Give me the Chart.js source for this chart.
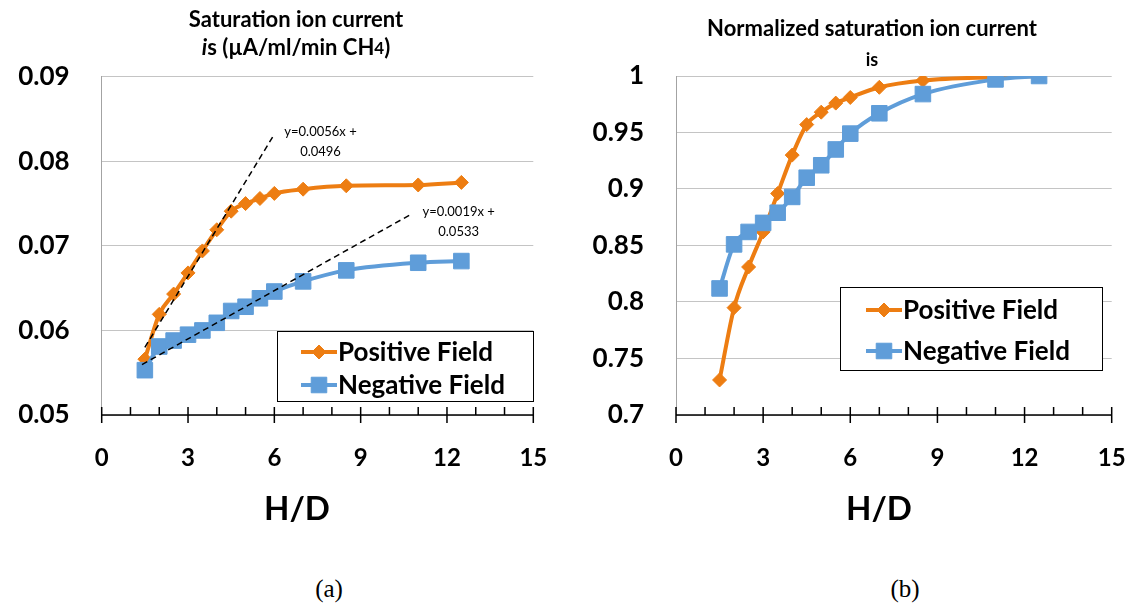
<!DOCTYPE html>
<html>
<head>
<meta charset="utf-8">
<script src="https://cdn.jsdelivr.net/npm/chart.js@4.4.1/dist/chart.umd.min.js"></script>
<style>
  body { margin: 0; background: #fff; width: 1133px; height: 615px; position: relative; overflow: hidden; }
  .panel { position: absolute; top: 0; height: 545px; }
  #panel-a { left: 0; width: 566px; }
  #panel-b { left: 566px; width: 567px; }
  .caption { position: absolute; top: 575px; font-family: "Liberation Serif", "DejaVu Serif", serif; font-size: 25px; color: #000; transform: translateX(-50%); }
</style>
</head>
<body>
<div class="panel" id="panel-a"><canvas id="chart-a"></canvas></div>
<div class="panel" id="panel-b"><canvas id="chart-b"></canvas></div>
<div class="caption" style="left:329px">(a)</div>
<div class="caption" style="left:905px">(b)</div>

<script>
// H/D positions of the measurements
const hdValues = [1.5, 2, 2.5, 3, 3.5, 4, 4.5, 5, 5.5, 6, 7, 8.5, 11, 12.5];

// saturation ion current, uA/ml/min CH4
const positiveIs = [0.0566, 0.0619, 0.0643, 0.0668, 0.0694, 0.0719, 0.0741, 0.0750, 0.0756, 0.0762, 0.0767, 0.0771, 0.0772, 0.0775];
const negativeIs = [0.0553, 0.0581, 0.0588, 0.0595, 0.0600, 0.0609, 0.0623, 0.0628, 0.0638, 0.0646, 0.0658, 0.0671, 0.0680, 0.0682];

// same currents normalized to the last point
const positiveNorm = [0.731, 0.795, 0.831, 0.862, 0.896, 0.930, 0.957, 0.968, 0.976, 0.981, 0.990, 0.996, 0.999, 1.0];
const negativeNorm = [0.812, 0.851, 0.862, 0.870, 0.879, 0.893, 0.910, 0.921, 0.935, 0.949, 0.967, 0.984, 0.997, 1.0];

// linear fits of the low H/D part
const positiveFit = { slope: 0.0056, intercept: 0.0496, from: 1.5, to: 6.0 };
const negativeFit = { slope: 0.0019, intercept: 0.0533, from: 1.4, to: 10.8 };

const seriesNames = ["Positive Field", "Negative Field"];
const xRange = [0, 15, 3];           // min, max, label step
const yRangeA = [0.05, 0.09, 0.01];
const yRangeB = [0.7, 1.0, 0.05];

const ORANGE = "#ED7D12";
const BLUE = "#5F9DD9";
const FONT = "Lato, 'Open Sans', sans-serif";

function toPoints(xs, ys) {
  return xs.map((x, i) => ({ x: x, y: ys[i] }));
}

function fitPoints(fit) {
  return [fit.from, fit.to].map(x => ({ x: x, y: fit.slope * x + fit.intercept }));
}

function seriesDataset(label, data, color, style, radius, order) {
  return {
    label: label,
    data: data,
    borderColor: color,
    backgroundColor: color,
    borderWidth: 4,
    pointStyle: style,
    pointRadius: radius,
    pointBorderWidth: 1,
    pointHoverRadius: radius,
    cubicInterpolationMode: "monotone",
    order: order,
  };
}

function fitDataset(fit) {
  return {
    data: fitPoints(fit),
    borderColor: "#000",
    borderWidth: 1.5,
    borderDash: [6, 4],
    pointRadius: 0,
    order: 0,
    fitText: ["y=" + fit.slope + "x +", String(fit.intercept)],
  };
}

// titles (mixed fonts) and the H/D axis caption
const headingPlugin = {
  id: "heading",
  afterDraw(chart, args, opts) {
    const ctx = chart.ctx;
    ctx.save();
    ctx.fillStyle = "#000";
    ctx.textBaseline = "middle";
    ctx.textAlign = "left";
    opts.lines.forEach(line => {
      let total = 0;
      line.runs.forEach(r => { ctx.font = r.font; total += ctx.measureText(r.text).width; });
      let x = (line.x || opts.centerX) - total / 2;
      line.runs.forEach(r => {
        ctx.font = r.font;
        ctx.fillText(r.text, x, line.y + (r.dy || 0));
        x += ctx.measureText(r.text).width;
      });
    });
    ctx.restore();
  },
};

// x axis line with crossing major ticks and inside minor ticks
const axisPlugin = {
  id: "hdAxis",
  afterDatasetsDraw(chart) {
    const ctx = chart.ctx;
    const xs = chart.scales.x;
    const area = chart.chartArea;
    const y0 = area.bottom;
    ctx.save();
    ctx.strokeStyle = "#000";
    ctx.lineWidth = 1.5;
    ctx.beginPath();
    ctx.moveTo(area.left, y0);
    ctx.lineTo(area.right, y0);
    for (let v = xs.min; v <= xs.max; v += 1) {
      const px = xs.getPixelForValue(v);
      const major = v % xRange[2] === 0;
      ctx.moveTo(px, y0 - 8);
      ctx.lineTo(px, major ? y0 + 8 : y0);
    }
    ctx.stroke();
    ctx.restore();
  },
};

// equations next to the end of each fitted line
const fitTextPlugin = {
  id: "fitText",
  afterDatasetsDraw(chart) {
    const ctx = chart.ctx;
    ctx.save();
    ctx.fillStyle = "#000";
    ctx.font = "13px " + FONT;
    ctx.textBaseline = "middle";
    chart.data.datasets.forEach(ds => {
      if (!ds.fitText) return;
      const end = ds.data[ds.data.length - 1];
      const px = chart.scales.x.getPixelForValue(end.x) + 10;
      const py = chart.scales.y.getPixelForValue(end.y) - 2;
      const w = ctx.measureText(ds.fitText[0]).width;
      ctx.textAlign = "left";
      ctx.fillText(ds.fitText[0], px, py);
      ctx.textAlign = "center";
      ctx.fillText(ds.fitText[1], px + w / 2, py + 20);
    });
    ctx.restore();
  },
};

// framed legend inside the plot
const boxLegendPlugin = {
  id: "boxLegend",
  afterDraw(chart, args, opts) {
    const ctx = chart.ctx;
    ctx.save();
    ctx.fillStyle = "#fff";
    ctx.fillRect(opts.left, opts.top, opts.width, opts.height);
    ctx.strokeStyle = "#000";
    ctx.lineWidth = 1;
    ctx.strokeRect(opts.left + 0.5, opts.top + 0.5, opts.width, opts.height);
    chart.data.datasets.filter(ds => ds.label).forEach((ds, i) => {
      const y = opts.top + opts.rows[i];
      const tx = opts.left + opts.textX;
      ctx.strokeStyle = ds.borderColor;
      ctx.lineWidth = 4;
      ctx.beginPath();
      ctx.moveTo(tx - 37, y);
      ctx.lineTo(tx - 1, y);
      ctx.stroke();
      ctx.fillStyle = ds.backgroundColor;
      ctx.lineWidth = 1;
      Chart.helpers.drawPoint(ctx, { pointStyle: ds.pointStyle, radius: ds.pointRadius, rotation: 0, borderWidth: 1 }, tx - 19, y);
      ctx.fillStyle = "#000";
      ctx.font = "bold 26px " + FONT;
      ctx.textAlign = "left";
      ctx.textBaseline = "middle";
      ctx.fillText(ds.label, tx, y + 1);
    });
    ctx.restore();
  },
};

function tickText(v) {
  return String(Number(v.toFixed(2)));
}

function buildOptions(yRange, yWidth, padRight, heading, legend) {
  return {
    responsive: true,
    maintainAspectRatio: false,
    animation: false,
    layout: { padding: { top: heading.top, right: padRight, left: 0, bottom: 0 } },
    plugins: {
      legend: { display: false },
      tooltip: { enabled: false },
      heading: heading,
      boxLegend: legend,
    },
    scales: {
      x: {
        type: "linear",
        min: xRange[0],
        max: xRange[1],
        afterFit: s => {
          s.height = 130;
          // end labels may hang past the plot edge
          s.paddingLeft = 0;
          s.paddingRight = 0;
        },
        grid: { display: false, drawTicks: false },
        border: { display: false },
        ticks: { stepSize: xRange[2], padding: 29, color: "#000", font: { family: FONT, size: 24, weight: "bold" } },
      },
      y: {
        min: yRange[0],
        max: yRange[1],
        afterFit: s => { s.width = yWidth; },
        grid: { color: "#c4c4c4", lineWidth: 1, drawTicks: false },
        border: { display: true, color: "#a3a3a3", width: 1 },
        ticks: { stepSize: yRange[2], padding: 32, color: "#000", callback: tickText, font: { family: FONT, size: 26, weight: "bold" } },
      },
    },
  };
}

const sharedPlugins = [headingPlugin, axisPlugin, fitTextPlugin, boxLegendPlugin];
const hdCaption = { y: 509, runs: [{ text: "H/D", font: "bold 33px " + FONT }] };

new Chart(document.getElementById("chart-a"), {
  type: "line",
  data: {
    datasets: [
      seriesDataset(seriesNames[0], toPoints(hdValues, positiveIs), ORANGE, "rectRot", 7, 2),
      seriesDataset(seriesNames[1], toPoints(hdValues, negativeIs), BLUE, "rect", 11, 1),
      fitDataset(positiveFit),
      fitDataset(negativeFit),
    ],
  },
  options: buildOptions(yRangeA, 101.7, 32.7,
    {
      top: 76.7,
      centerX: 296,
      lines: [
        { y: 20, runs: [{ text: "Saturation ion current", font: "bold 22px " + FONT }] },
        { y: 48, runs: [
          { text: "i", font: "italic bold 22px " + FONT },
          { text: "s (\u00b5A/ml/min CH", font: "bold 22px " + FONT },
          { text: "4", font: "bold 17px " + FONT, dy: 1 },
          { text: ")", font: "bold 22px " + FONT },
        ] },
        Object.assign({ x: 297 }, hdCaption),
      ],
    },
    { left: 277, top: 331, width: 256, height: 70, rows: [21, 54], textX: 61 }),
  plugins: sharedPlugins,
});

new Chart(document.getElementById("chart-b"), {
  type: "line",
  data: {
    datasets: [
      seriesDataset(seriesNames[0], toPoints(hdValues, positiveNorm), ORANGE, "rectRot", 7, 2),
      seriesDataset(seriesNames[1], toPoints(hdValues, negativeNorm), BLUE, "rect", 11, 1),
    ],
  },
  options: buildOptions(yRangeB, 110, 21.3,
    {
      top: 76,
      centerX: 306,
      lines: [
        { y: 29, runs: [{ text: "Normalized saturation ion current", font: "bold 22px " + FONT }] },
        { y: 60, runs: [{ text: "is", font: "bold 18px " + FONT }] },
        Object.assign({ x: 313 }, hdCaption),
      ],
    },
    { left: 274, top: 287, width: 262, height: 83, rows: [23, 64], textX: 63 }),
  plugins: sharedPlugins,
});
</script>
</body>
</html>
